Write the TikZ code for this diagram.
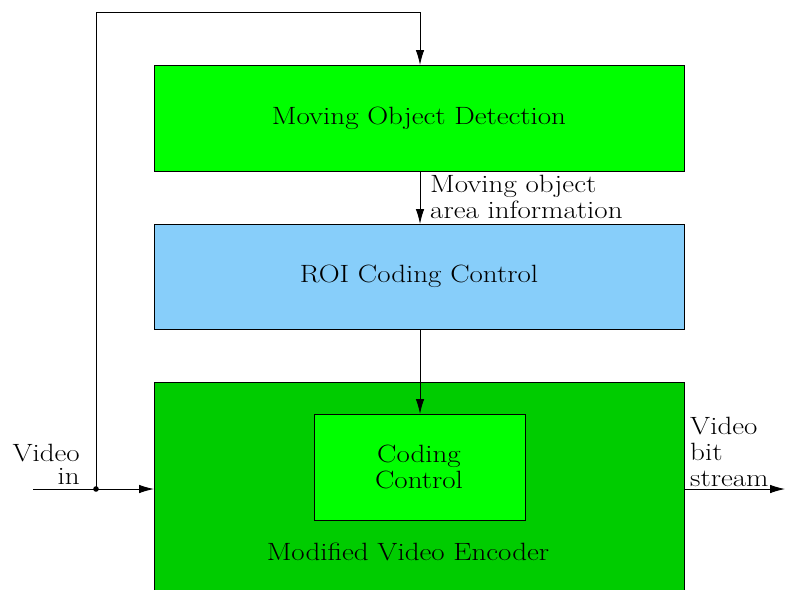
\documentclass[tikz,border=0pt]{standalone}
\usepackage{fontspec}
\setmainfont{Latin Modern Roman}[FakeStretch=1.16]
\usetikzlibrary{arrows.meta}
\definecolor{bright}{HTML}{00FF00}
\definecolor{dark}{HTML}{00CC00}
\definecolor{sky}{HTML}{87CEFA}
\begin{document}
\begin{tikzpicture}[x=1pt,y=-1pt,
  box/.style={draw=black,line width=0.9pt},
  lbl/.style={font=\fontsize{25}{26}\selectfont,inner sep=0pt},
  conn/.style={line width=0.9pt,-{Latex[length=15pt,width=8.5pt]}}]
\useasboundingbox (0,0) rectangle (791,589);
\begin{scope}
\clip (0,0) rectangle (791,589);
\fill[dark] (154,382) rectangle (684,600);
\draw[line width=0.9pt] (154,600) -- (154,382) -- (684,382) -- (684,600);
\end{scope}
\node[box,fill=bright,minimum width=530pt,minimum height=106pt,anchor=north west] (mod) at (154,65) {};
\node[lbl,anchor=base] at (419,124) {Moving Object Detection};
\node[box,fill=sky,minimum width=530pt,minimum height=105pt,anchor=north west] (roi) at (154,224) {};
\node[lbl,anchor=base] at (419,282) {ROI Coding Control};
\coordinate (encw) at (154,489);
\coordinate (ence) at (684,489);
\node[box,fill=bright,minimum width=211pt,minimum height=106pt,anchor=north west] (cc) at (314,414) {};
\node[lbl,align=center,anchor=north] at (419,445) {Coding\\Control};
\node[lbl,anchor=base] (mve) at (408,560) {Modified Video Encoder};
\coordinate (in) at (33,489);
\coordinate (dot) at (96,489);
\coordinate (top) at (96,12);
\coordinate (topr) at (420,12);
\coordinate (out) at (785,489);
\fill (dot) circle (2.8pt);
\draw[conn] (in) -- (encw);
\draw[conn] (dot) -- (top) -- (topr) -- (420,65);
\draw[conn] (420,171) -- (420,224);
\draw[conn] (420,329) -- (420,414);
\draw[conn] (ence) -- (out);
\node[lbl,align=left,anchor=north west] at (430,175) {Moving object\\area information};
\node[lbl,align=right,anchor=north east] at (80,444) {Video\\[-3pt]in};
\node[lbl,align=left,anchor=north west] at (690,417) {Video\\bit\\stream};
\end{tikzpicture}
\end{document}
